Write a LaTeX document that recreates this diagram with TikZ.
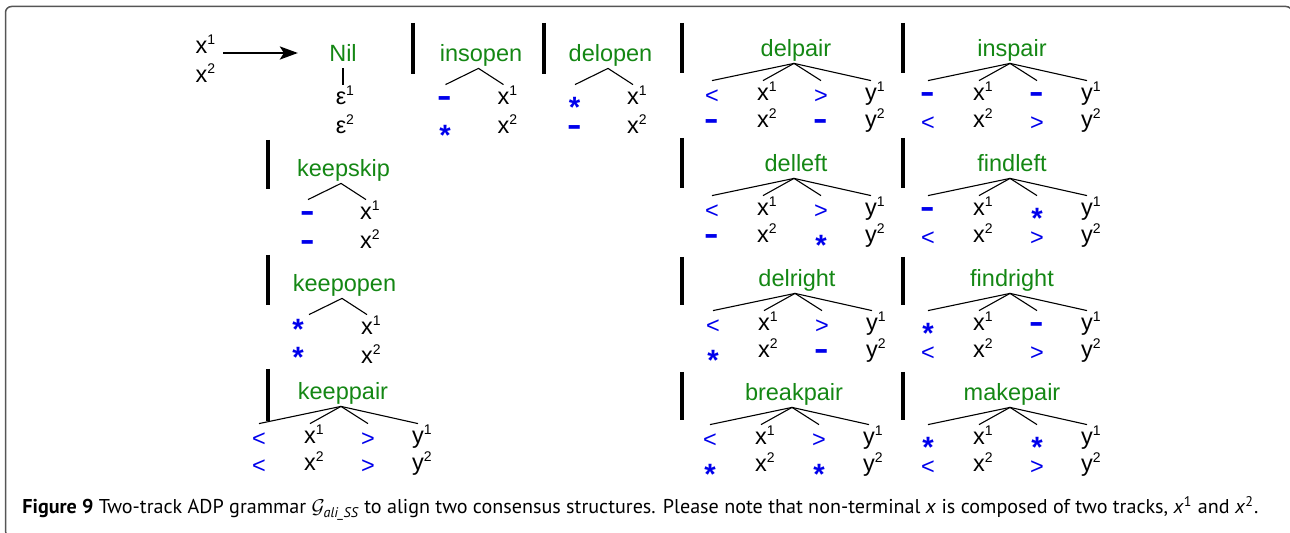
\documentclass[tikz,border=0pt]{standalone}
\usepackage{amsmath}
\usepackage{graphicx}
\usepackage{fontspec}
\setmainfont{Liberation Sans}
\newfontfamily\capfont{PT Sans}
\usetikzlibrary{arrows.meta}
\definecolor{adpgreen}{RGB}{20,135,20}
\definecolor{adpblue}{RGB}{0,0,235}
\definecolor{framegray}{RGB}{85,85,85}
\newcommand{\trk}[2]{#1\rlap{\raisebox{4.5pt}{\fontsize{7}{7}\selectfont #2}}}
\newcommand{\gapsym}{\textcolor{adpblue}{\raisebox{-1.9pt}{\scalebox{0.95}[1.6]{\bfseries\textendash}}}}
\newcommand{\starsym}{\textcolor{adpblue}{\raisebox{-6.2pt}{\scalebox{1.25}{\bfseries *}}}}
\newcommand{\opensym}{\textcolor{adpblue}{\raisebox{-1.2pt}{<}}}
\newcommand{\closesym}{\textcolor{adpblue}{\raisebox{-1.2pt}{>}}}
\tikzset{rulename/.style = {text=adpgreen, inner sep=0.5pt, text height=8pt, text depth=2.5pt, anchor=base}}
\tikzset{leaf/.style = {inner sep=1pt, text height=7pt, text depth=1pt}}
\tikzset{branch/.style = {line width=0.55pt}}
\tikzset{altbar/.style = {line width=1.9pt}}
\tikzset{arr/.style = {line width=1.3pt, -{Stealth[length=9pt, width=6.5pt, inset=2pt]}}}
\begin{document}
\begin{tikzpicture}[x=0.5pt, y=-0.5pt, font=\fontsize{11.75}{14}\selectfont]
  \useasboundingbox (0,0) rectangle (1290,533);
  \draw [framegray, line width=0.75pt, rounded corners=3pt] (5.5,6.5) rectangle (1292,537);

  % left-hand side and the Nil rule
  \node (lx1) at (201.5,48) [leaf] {\trk{x}{1}};
  \node (lx2) at (201.5,76.5) [leaf] {\trk{x}{2}};
  \node (nil) at (343,62) [rulename] {Nil};
  \node (eps1) at (341,99) [leaf] {\trk{ε}{1}};
  \node (eps2) at (341,127.5) [leaf] {\trk{ε}{2}};
  \draw [arr] ([shift={(13.5,5)}]lx1.east) -- ([shift={(-30,-3.5)}]nil.west);
  \draw [branch] (nil.south) -- ([yshift=2pt]nil.south |- eps1.north);

  % alternatives
  \foreach \x/\ya/\yb in {413/23/74, 544/23/74, 682/23/73, 903/23/73,
                          268/140/189, 682/138/188, 903/138/188,
                          268/255/305, 682/257/305, 903/257/305,
                          268/369/421, 682/372/420, 903/372/420}
    \draw [altbar] (\x,\ya) -- (\x,\yb);

  % rules with one nonterminal
  \foreach \n/\lab/\tx/\ty/\sx/\sy/\sa/\sb in {io/insopen/481/62/-36/0/\gapsym/\starsym,
                                              do/delopen/610.5/62/-36/0/\starsym/\gapsym,
                                              ks/keepskip/343.5/177/-35.5/0/\gapsym/\gapsym,
                                              ko/keepopen/344.5/292/-46.5/-8/\starsym/\starsym} {
    \node (\n-t) at (\tx,\ty) [rulename] {\lab};
    \node (\n-a) at (\tx+\sx,\ty+37+\sy) [leaf] {\sa};
    \node (\n-b) at (\tx+\sx,\ty+65.5+\sy) [leaf] {\sb};
    \node (\n-x1) at (\tx+22.5,\ty+37) [leaf] {\trk{x}{1}};
    \node (\n-x2) at (\tx+22.5,\ty+65.5) [leaf] {\trk{x}{2}};
    \draw [branch] ([shift={(-58,-4)}]\n-x1.north) -- ([xshift=-1.25pt]\n-t.south) -- ([yshift=2pt]\n-x1.north);
  }

  % rules with two nonterminals
  \foreach \n/\lab/\tx/\ty/\sa/\sb/\sc/\sd in {
      dp/delpair/796/57/\opensym/\gapsym/\closesym/\gapsym,
      ip/inspair/1012/57/\gapsym/\opensym/\gapsym/\closesym,
      dl/delleft/796/172/\opensym/\gapsym/\closesym/\starsym,
      fl/findleft/1012/172/\gapsym/\opensym/\starsym/\closesym,
      dr/delright/797/287/\opensym/\starsym/\closesym/\gapsym,
      fr/findright/1012/287/\starsym/\opensym/\gapsym/\closesym,
      kp/keeppair/343/400/\opensym/\opensym/\closesym/\closesym,
      bp/breakpair/794/401/\opensym/\starsym/\closesym/\starsym,
      mp/makepair/1012/401/\starsym/\opensym/\starsym/\closesym} {
    \node (\n-t) at (\tx,\ty) [rulename] {\lab};
    \node (\n-a) at (\tx-84,\ty+38) [leaf] {\sa};
    \node (\n-b) at (\tx-84,\ty+65) [leaf] {\sb};
    \node (\n-x1) at (\tx-33,\ty+38) [leaf] {\trk{x}{1}};
    \node (\n-x2) at (\tx-33,\ty+65) [leaf] {\trk{x}{2}};
    \node (\n-c) at (\tx+25,\ty+38) [leaf] {\sc};
    \node (\n-d) at (\tx+25,\ty+65) [leaf] {\sd};
    \node (\n-y1) at (\tx+75,\ty+38) [leaf] {\trk{y}{1}};
    \node (\n-y2) at (\tx+75,\ty+65) [leaf] {\trk{y}{2}};
    \foreach \k in {a,x1,c,y1}
      \draw [branch] ([xshift=-1pt]\n-t.south) -- ([yshift=2pt]\n-x1.north -| \n-\k.north);
  }

  \node (cap) at (22,514) [anchor=base west, inner sep=0, font=\capfont\fontsize{10}{12}\selectfont]
    {\resizebox{618pt}{\height}{\textbf{Figure 9} Two-track ADP grammar $\mathcal{G}_{\textit{ali\_SS}}$ to align two consensus structures. Please note that non-terminal \textit{x} is composed of two tracks, \textit{x}\textsuperscript{1} and \textit{x}\textsuperscript{2}.}};
\end{tikzpicture}
\end{document}
